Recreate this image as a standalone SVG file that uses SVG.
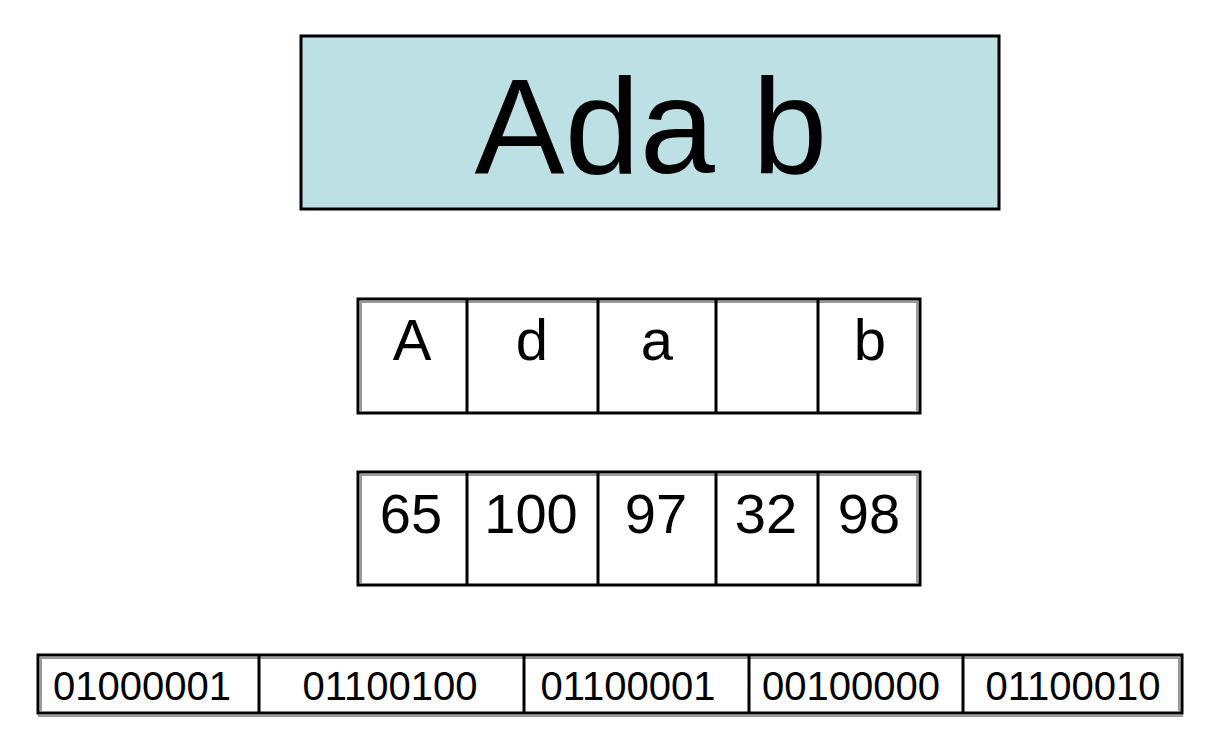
<svg xmlns="http://www.w3.org/2000/svg" width="1219" height="751" viewBox="0 0 1219 751">
<style>
  text { font-family: "Liberation Sans", Arial, sans-serif; fill: #000; text-anchor: middle; }
  .frame { fill: #fff; stroke: #000; stroke-width: 3; }
  .div { stroke: #000; stroke-width: 3; }
  .sh { stroke: #9a9a9a; stroke-width: 2; fill: none; }
  .c { font-size: 58px; }
  .n { font-size: 56px; }
  .b { font-size: 40px; }
</style>
<rect width="1219" height="751" fill="#fff"/>
<g id="title">
  <rect x="301" y="36" width="698" height="173" fill="#BCE0E4" stroke="#000" stroke-width="3"/>
  <text x="651" y="173" style="font-size:135px">Ada b</text>
</g>
<g id="chars">
  <rect class="frame" x="358" y="299" width="562" height="114"/>
  <path class="sh" d="M360,302 H918 M361,301 V411 M917,301 V411"/>
  <path class="div" d="M467,299 V413 M598,299 V413 M716,299 V413 M818,299 V413"/>
  <text class="c" x="412" y="360">A</text>
  <text class="c" x="532" y="360">d</text>
  <text class="c" x="657" y="360">a</text>
  <text class="c" x="870" y="360">b</text>
</g>
<g id="codes">
  <rect class="frame" x="358" y="472" width="562" height="113"/>
  <path class="sh" d="M360,475 H918 M361,474 V583 M917,474 V583"/>
  <path class="div" d="M467,472 V585 M598,472 V585 M716,472 V585 M818,472 V585"/>
  <text class="n" x="411" y="533">65</text>
  <text class="n" x="531" y="533">100</text>
  <text class="n" x="656" y="533">97</text>
  <text class="n" x="766" y="533">32</text>
  <text class="n" x="869" y="533">98</text>
</g>
<g id="bits">
  <rect class="frame" x="38" y="655" width="1144" height="58"/>
  <path class="sh" d="M40,658 H1180 M41,657 V711 M1179,657 V711 M38,716 H1183"/>
  <path class="div" d="M259,655 V713 M524,655 V713 M749,655 V713 M963,655 V713"/>
  <text class="b" x="142" y="700">01000001</text>
  <text class="b" x="390" y="700">01100100</text>
  <text class="b" x="628" y="700">01100001</text>
  <text class="b" x="851" y="700">00100000</text>
  <text class="b" x="1073" y="700">01100010</text>
</g>
<g id="connectors"></g>
</svg>
